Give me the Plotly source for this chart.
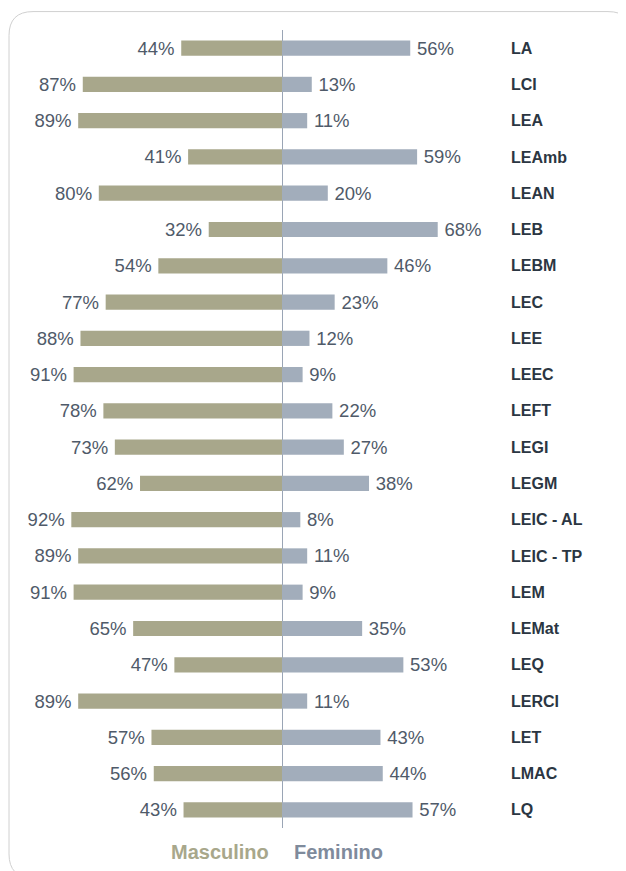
import plotly.graph_objects as go

categories = ["LA", "LCI", "LEA", "LEAmb", "LEAN", "LEB", "LEBM", "LEC", "LEE", "LEEC",
              "LEFT", "LEGI", "LEGM", "LEIC - AL", "LEIC - TP", "LEM", "LEMat", "LEQ",
              "LERCI", "LET", "LMAC", "LQ"]
masculino = [44, 87, 89, 41, 80, 32, 54, 77, 88, 91, 78, 73, 62, 92, 89, 91, 65, 47, 89, 57, 56, 43]
feminino = [56, 13, 11, 59, 20, 68, 46, 23, 12, 9, 22, 27, 38, 8, 11, 9, 35, 53, 11, 43, 44, 57]

OFF = 8  # page body margin
W, H = 626 - OFF, 871 - OFF
# plot area in page coordinates
P_L, P_R, P_T, P_B = 40, 500, 30.4, 828.1
ML, MR, MT, MB = P_L - OFF, (626 - P_R), P_T - OFF, (871 - P_B)
pw, ph = W - ML - MR, H - MT - MB

c_m = "#A8A78B"
c_f = "#A2ADBB"
txt = "#4F5A69"
font_fam = "Liberation Sans, Arial, sans-serif"
SCALE = 2.29  # px per percent
CENTER = 282

fig = go.Figure()
fig.add_trace(go.Bar(
    y=categories, x=[-v for v in masculino], base=0, orientation="h",
    marker=dict(color=c_m, line=dict(width=0)),
    text=[f"{v}%\u2009" for v in masculino], textposition="outside", constraintext="none",
    textfont=dict(color=txt, size=18.5, family=font_fam),
    cliponaxis=False, name="Masculino", hoverinfo="skip"))
fig.add_trace(go.Bar(
    y=categories, x=feminino, orientation="h",
    marker=dict(color=c_f, line=dict(width=0)),
    text=[f"\u2009{v}%" for v in feminino], textposition="outside", constraintext="none",
    textfont=dict(color=txt, size=18.5, family=font_fam),
    cliponaxis=False, name="Feminino", hoverinfo="skip"))

def px(x):
    return (x - P_L) / pw

def py(y):
    return (P_B - y) / ph

# rounded border box
L, T, R, B, r = 9, 12, 632, 878, 24
path = (f"M {px(L + r)},{py(T)} L {px(R - r)},{py(T)} Q {px(R)},{py(T)} {px(R)},{py(T + r)} "
        f"L {px(R)},{py(B - r)} Q {px(R)},{py(B)} {px(R - r)},{py(B)} "
        f"L {px(L + r)},{py(B)} Q {px(L)},{py(B)} {px(L)},{py(B - r)} "
        f"L {px(L)},{py(T + r)} Q {px(L)},{py(T)} {px(L + r)},{py(T)} Z")
fig.add_shape(type="path", path=path, xref="paper", yref="paper",
              line=dict(color="#D0D0D0", width=1), layer="below")

fig.add_annotation(x=px(271), y=py(852), xref="paper", yref="paper", text="<b>Masculino</b>",
                   showarrow=False, xanchor="right", yanchor="middle",
                   font=dict(color="#A8A78B", size=20, family=font_fam))
fig.add_annotation(x=px(292), y=py(852), xref="paper", yref="paper", text="<b>Feminino</b>",
                   showarrow=False, xanchor="left", yanchor="middle",
                   font=dict(color="#7F8B9C", size=20, family=font_fam))

fig.update_layout(
    width=W, height=H, margin=dict(l=ML, r=MR, t=MT, b=MB, pad=0),
    paper_bgcolor="white", plot_bgcolor="white",
    barmode="overlay", bargap=0.58, showlegend=False,
    font=dict(family=font_fam),
)
fig.update_xaxes(range=[-(CENTER - P_L) / SCALE, (P_R - CENTER) / SCALE], showgrid=False,
                 showticklabels=False, zeroline=True, zerolinecolor="#9AA5B5", zerolinewidth=1,
                 fixedrange=True)
fig.update_yaxes(autorange="reversed", side="right", showgrid=False, zeroline=False,
                 ticks="", ticklabelstandoff=10, categoryorder="array", categoryarray=categories,
                 tickfont=dict(color="#2B3642", size=16, family=font_fam, weight="bold"),
                 fixedrange=True)

fig.write_html("out.html")
